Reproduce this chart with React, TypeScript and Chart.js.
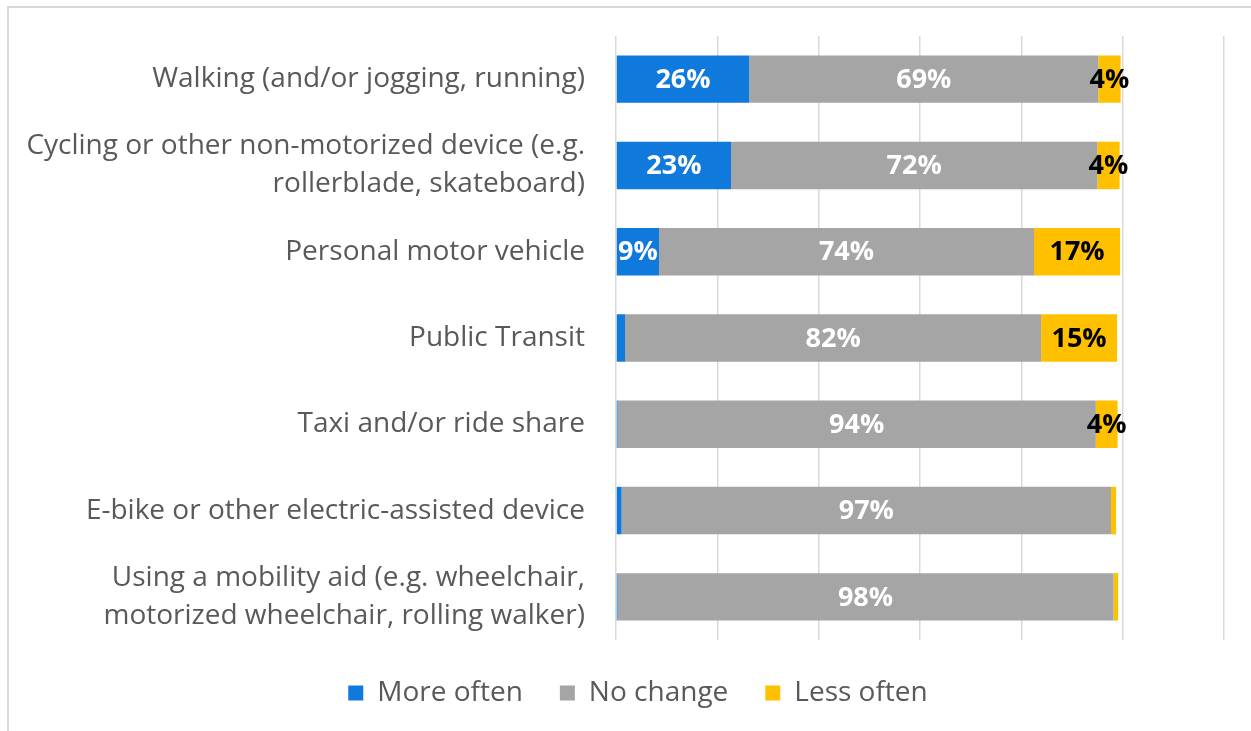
import React, { useEffect, useRef } from "react";
import { Chart, registerables } from "chart.js";

Chart.register(...registerables);

const categories: (string | string[])[] = [
  "Walking (and/or jogging, running)",
  ["Cycling or other non-motorized device (e.g.", "rollerblade, skateboard)"],
  "Personal motor vehicle",
  "Public Transit",
  "Taxi and/or ride share",
  "E-bike or other electric-assisted device",
  ["Using a mobility aid (e.g. wheelchair,", "motorized wheelchair, rolling walker)"],
];

const moreOften = [26.3, 22.7, 8.5, 1.8, 0.3, 1.1, 0.3];
const noChange = [68.9, 72.3, 74.0, 82.1, 94.4, 96.6, 97.9];
const lessOften = [4.4, 4.4, 17.0, 15.0, 4.3, 1.0, 0.9];

const seriesNames = ["More often", "No change", "Less often"];
const seriesColors = ["#1079DC", "#A5A5A5", "#FFC000"];
const labelColors = ["#FFFFFF", "#FFFFFF", "#000000"];

const xTicks = [0, 20, 40, 60, 80, 100, 120];

const FONT = "'Open Sans', sans-serif";
const LEGEND_SHIFT = 26;

const barLabelPlugin = {
  id: "barLabels",
  afterLayout(chart: any) {
    if (chart.legend) {
      chart.legend.left += LEGEND_SHIFT;
      chart.legend.right += LEGEND_SHIFT;
    }
  },
  afterDatasetsDraw(chart: any) {
    const ctx = chart.ctx;
    ctx.save();
    ctx.font = `bold 27px ${FONT}`;
    ctx.textAlign = "center";
    ctx.textBaseline = "middle";
    chart.data.datasets.forEach((ds: any, di: number) => {
      const meta = chart.getDatasetMeta(di);
      meta.data.forEach((el: any, i: number) => {
        const v = ds.data[i];
        if (v < 3.5) return;
        const cx = (el.x + el.base) / 2;
        ctx.fillStyle = labelColors[di];
        ctx.fillText(Math.round(v) + "%", cx, el.y + 1);
      });
    });
    ctx.restore();
  },
};

export default function App() {
  const ref = useRef<HTMLCanvasElement>(null);

  useEffect(() => {
    if (!ref.current) return;
    const chart = new Chart(ref.current, {
      type: "bar",
      data: {
        labels: categories,
        datasets: [moreOften, noChange, lessOften].map((d, i) => ({
          label: seriesNames[i],
          data: d,
          backgroundColor: seriesColors[i],
          borderWidth: 0,
          barPercentage: 0.55,
          categoryPercentage: 1,
        })),
      },
      options: {
        indexAxis: "y",
        animation: false,
        responsive: false,
        maintainAspectRatio: false,
        layout: { padding: { top: 36, right: 27, left: 0, bottom: 14 } },
        scales: {
          x: {
            stacked: true,
            min: 0,
            max: 120,
            afterBuildTicks: (s: any) => {
              s.ticks = xTicks.map((v) => ({ value: v }));
            },
            afterFit: (s: any) => {
              s.height = 2;
              s.paddingLeft = 0;
              s.paddingRight = 0;
            },
            ticks: { display: false },
            grid: { color: "#D9D9D9", lineWidth: 1.5, drawTicks: false },
            border: { display: false },
          },
          y: {
            stacked: true,
            afterFit: (s: any) => {
              s.width = 616;
              s.paddingTop = 0;
              s.paddingBottom = 0;
            },
            grid: { display: false, drawTicks: false },
            border: { display: false },
            ticks: {
              color: "#595959",
              padding: 31,
              font: { family: FONT, size: 28, lineHeight: 1.35 },
            },
          },
        },
        plugins: {
          legend: {
            position: "bottom",
            labels: {
              color: "#595959",
              boxWidth: 15,
              boxHeight: 15,
              padding: 37,
              font: { family: FONT, size: 28 },
            },
          },
          tooltip: { enabled: false },
        },
      },
      plugins: [barLabelPlugin],
    });
    return () => chart.destroy();
  }, []);

  return (
    <div
      style={{
        position: "absolute",
        left: 0,
        top: 0,
        width: 1251,
        height: 731,
        overflow: "hidden",
        background: "#fff",
      }}
    >
      <div
        style={{
          position: "absolute",
          left: 7,
          top: 6,
          width: 1400,
          height: 900,
          borderTop: "2px solid #D9D9D9",
          borderLeft: "2px solid #D9D9D9",
        }}
      />
      <canvas
        ref={ref}
        width={1251}
        height={731}
        style={{ position: "absolute", left: 0, top: 0 }}
      />
    </div>
  );
}
